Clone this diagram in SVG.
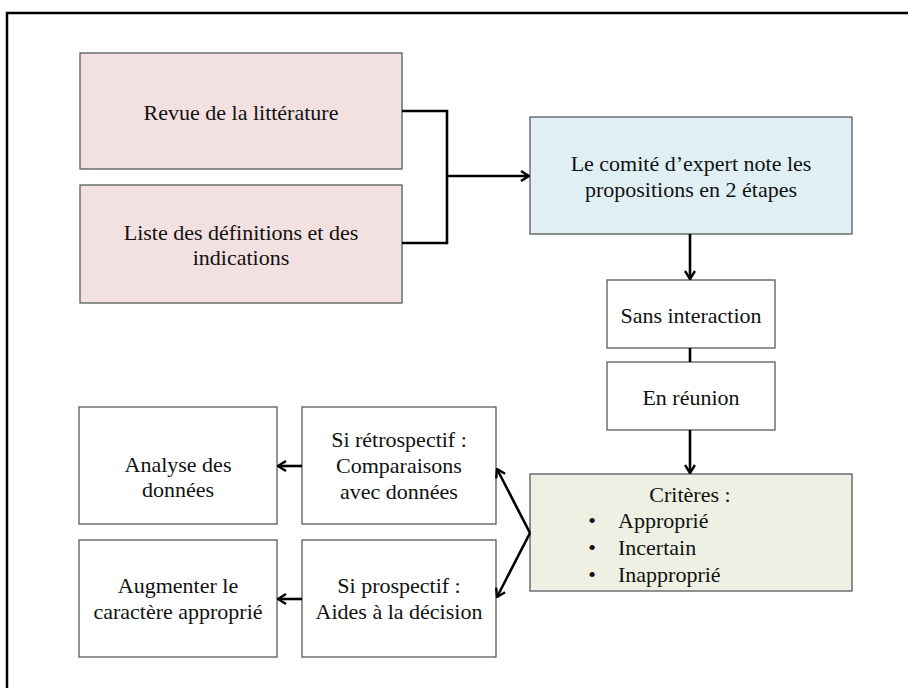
<svg xmlns="http://www.w3.org/2000/svg" width="908" height="688" viewBox="0 0 908 688">
<defs>
<style>
.box{stroke:#5a5a5a;stroke-width:1.3}
.pink{fill:#F3E0E0}
.blue{fill:#E0EFF4}
.green{fill:#EDF0E2}
.white{fill:#ffffff}
text{font-family:"Liberation Serif","Times New Roman",serif;font-size:22px;fill:#111}
.c{text-anchor:middle}
.conn{fill:none;stroke:#000;stroke-width:2.6}
</style>
<marker id="arr" viewBox="0 0 10 12" refX="9" refY="6" markerWidth="10" markerHeight="12" markerUnits="userSpaceOnUse" orient="auto">
<path d="M1,1 L9,6 L1,11" fill="none" stroke="#000" stroke-width="2.4"/>
</marker>
</defs>
<rect width="908" height="688" fill="#fff"/>
<path d="M7,688 V13 H908" fill="none" stroke="#000" stroke-width="2.5"/>

<g id="n-revue">
<rect class="box pink" x="80" y="53" width="322" height="116"/>
<text class="c" x="241" y="120">Revue de la littérature</text>
</g>
<g id="n-liste">
<rect class="box pink" x="80" y="185" width="322" height="118"/>
<text class="c" x="241" y="240">Liste des définitions et des</text>
<text class="c" x="241" y="265">indications</text>
</g>
<g id="n-comite">
<rect class="box blue" x="530" y="117" width="322" height="117"/>
<text class="c" x="691" y="171">Le comité d’expert note les</text>
<text class="c" x="691" y="197">propositions en 2 étapes</text>
</g>
<g id="n-sans">
<rect class="box white" x="607" y="280" width="168" height="68"/>
<text class="c" x="691" y="323">Sans interaction</text>
</g>
<g id="n-reunion">
<rect class="box white" x="607" y="362" width="168" height="68"/>
<text class="c" x="691" y="405">En réunion</text>
</g>
<g id="n-criteres">
<rect class="box green" x="530" y="474" width="322" height="117"/>
<text class="c" x="690" y="502">Critères :</text>
<text x="592" y="528" class="c">•</text><text x="618" y="528">Approprié</text>
<text x="592" y="555" class="c">•</text><text x="618" y="555">Incertain</text>
<text x="592" y="582" class="c">•</text><text x="618" y="582">Inapproprié</text>
</g>
<g id="n-retro">
<rect class="box white" x="302" y="407" width="194" height="117"/>
<text class="c" x="399" y="447">Si rétrospectif :</text>
<text class="c" x="399" y="473">Comparaisons</text>
<text class="c" x="399" y="499">avec données</text>
</g>
<g id="n-analyse">
<rect class="box white" x="79" y="407" width="198" height="117"/>
<text class="c" x="178" y="472">Analyse des</text>
<text class="c" x="178" y="497">données</text>
</g>
<g id="n-prosp">
<rect class="box white" x="302" y="540" width="194" height="117"/>
<text class="c" x="399" y="593">Si prospectif :</text>
<text class="c" x="399" y="619">Aides à la décision</text>
</g>
<g id="n-augmenter">
<rect class="box white" x="79" y="540" width="198" height="117"/>
<text class="c" x="178" y="593">Augmenter le</text>
<text class="c" x="178" y="619">caractère approprié</text>
</g>

<g id="connectors">
<path class="conn" d="M402,111 H447 V243 H402"/>
<path class="conn" d="M447,176 H529" marker-end="url(#arr)"/>
<path class="conn" d="M690,234 V279" marker-end="url(#arr)"/>
<path class="conn" d="M690,348 V362"/>
<path class="conn" d="M690,430 V473" marker-end="url(#arr)"/>
<path class="conn" d="M302,466 H278" marker-end="url(#arr)"/>
<path class="conn" d="M302,599 H278" marker-end="url(#arr)"/>
<path class="conn" d="M530,533 L497,469" marker-end="url(#arr)"/>
<path class="conn" d="M530,533 L497,597" marker-end="url(#arr)"/>
</g>
</svg>
